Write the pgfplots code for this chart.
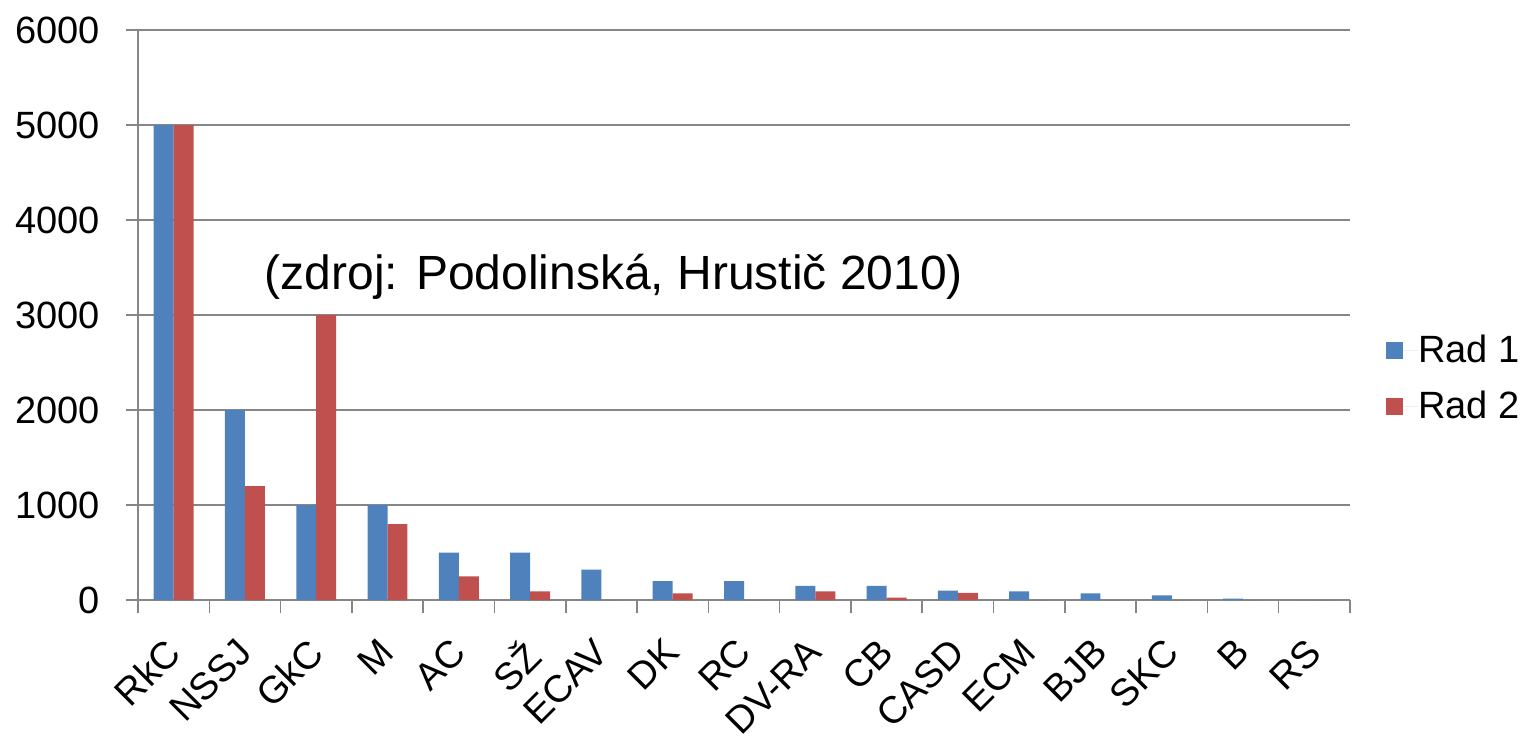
\documentclass[border=0pt]{standalone}
\usepackage{pgfplots}
\pgfplotsset{compat=1.18}
\usepackage{fontspec}
\setmainfont{Liberation Sans}
\definecolor{rad1}{HTML}{4F81BD}
\definecolor{rad2}{HTML}{C0504D}
\definecolor{axgray}{HTML}{868686}
\pgfplotstableread{
x r1 r2
0 5000 5000
1 2000 1200
2 1000 3000
3 1000 800
4 500 250
5 500 90
6 320 0
7 200 70
8 200 0
9 150 90
10 150 25
11 100 75
12 90 0
13 70 0
14 50 0
15 15 0
16 0 0
}\datatable
\begin{document}
\begin{tikzpicture}
\useasboundingbox (0,0) rectangle (764pt,367.5pt);
\begin{axis}[
  at={(69pt,67.5pt)}, anchor=south west,
  scale only axis, width=606pt, height=285pt,
  ymin=0, ymax=6000, ytick={0,1000,...,6000},
  xmin=-0.5, xmax=16.5,
  axis lines*=left,
  axis line style={draw=axgray, line width=0.75pt},
  tick align=outside,
  tick style={draw=axgray, line width=0.75pt},
  major tick length=6pt, minor tick length=6.5pt,
  xtick={0,...,16},
  xticklabels={RkC,NSSJ,GkC,M,AC,SŽ,ECAV,DK,RC,DV-RA,CB,CASD,ECM,BJB,SKC,B,RS},
  major x tick style={draw=none},
  minor xtick={-0.5,0.5,...,16.5},
  ymajorgrids, grid style={draw=axgray, line width=0.75pt},
  scaled ticks=false,
  /pgf/number format/1000 sep={},
  /pgf/number format/assume math mode=true,
  ticklabel style={font=\fontsize{19}{22}\selectfont},
  yticklabel style={inner sep=0pt, xshift=-13pt},
  xticklabel style={rotate=45, anchor=north east, inner sep=0pt, xshift=-11.9pt, yshift=-4.9pt},
  legend style={draw=none, fill=none, at={(1.0247,0.389)}, anchor=west,
    font=\fontsize{19}{22}\selectfont, row sep=13pt,
    nodes={inner sep=0pt}},
  legend cell align=left,
  legend image code/.code={\fill[#1] (0pt,-4.25pt) rectangle (8.5pt,4.25pt); \path (0pt,0pt) -- (16pt,0pt);},
  bar width=0.28,
]
\addplot[ybar, fill=rad1, draw=none, bar shift=-0.14] table[x=x,y=r1] {\datatable};
\addlegendentry{Rad 1}
\addplot[ybar, fill=rad2, draw=none, bar shift=0.14] table[x=x,y=r2] {\datatable};
\addlegendentry{Rad 2}
\end{axis}
\node[anchor=base, font=\fontsize{24}{28}\selectfont] at (307pt,222.5pt) {(zdroj: Podolinská, Hrustič 2010)};
\end{tikzpicture}
\end{document}
